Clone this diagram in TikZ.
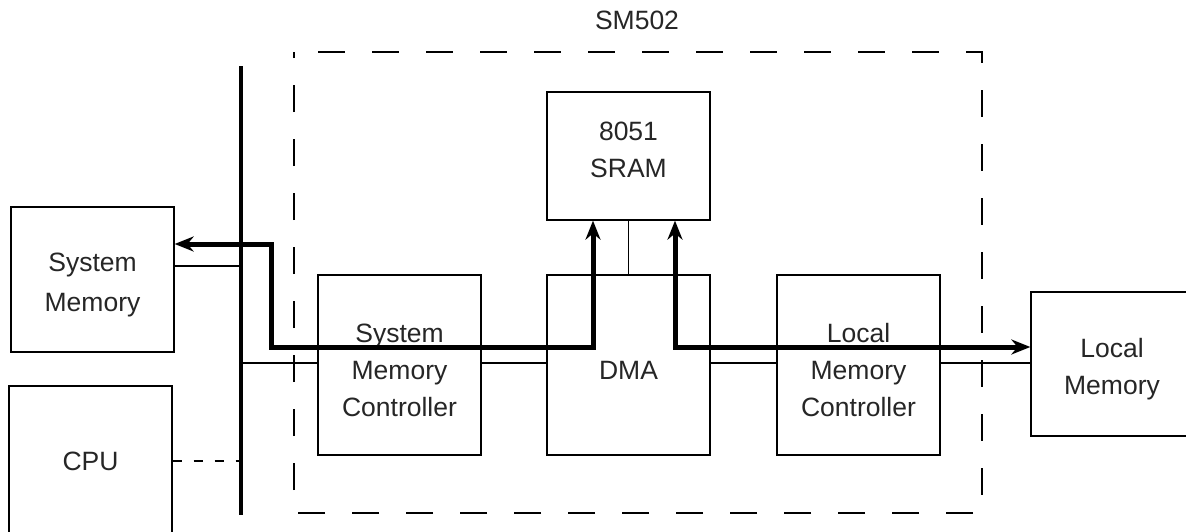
\documentclass[tikz,border=0pt]{standalone}
\usepackage{fontspec}
\setmainfont{Liberation Sans}
\usetikzlibrary{arrows.meta}
\tikzset{
  blk/.style={draw, line width=1.3pt, minimum width=163pt, inner sep=0pt},
  lbl/.style={font=\fontsize{26.5}{37}\selectfont, text=black!85, align=center, inner sep=0pt},
  thin/.style={line width=1.3pt},
  bus/.style={line width=3.6pt},
  flow/.style={line width=5pt, {Stealth[length=19pt,width=15pt]}-{Stealth[length=19pt,width=15pt]}},
  chip/.style={line width=2pt, dash pattern=on 27pt off 27pt, dash phase=30pt},
  cpulink/.style={line width=1.6pt, dash pattern=on 9pt off 12pt}
}
\begin{document}
\begin{tikzpicture}[x=1pt,y=-1pt]
\clip (0,0) rectangle (1186,531);
\fill[white] (0,0) rectangle (1186,531);
% chip boundary
\draw[chip] (294,52) -- (982,52) -- (982,513) -- (294,513) -- cycle;
\node[lbl] (title) at (637,20) {SM502};
% blocks
\node[blk, minimum height=145pt] (sysmem) at (92.5,279.5) {};
\node[blk, minimum height=150pt] (cpu) at (90.5,461) {};
\node[blk, minimum height=180pt] (smc) at (399.5,365) {};
\node[blk, minimum height=180pt] (dma) at (628.5,365) {};
\node[blk, minimum height=180pt] (lmc) at (858.5,365) {};
\node[blk, minimum height=128pt] (sram) at (628.5,156) {};
\node[blk, minimum width=162pt, minimum height=144pt] (lm) at (1112,364) {};
% labels
\node[lbl, baseline=0pt] (sysmemT) at ([yshift=-5pt]sysmem.center) {System\\[3pt]Memory};
\node[lbl] (cpuT) at (cpu.center) {CPU};
\node[lbl] (smcT) at ([yshift=-5pt]smc.center) {System\\Memory\\Controller};
\node[lbl] (dmaT) at ([yshift=-5pt]dma.center) {DMA};
\node[lbl] (lmcT) at ([yshift=-5pt]lmc.center) {Local\\Memory\\Controller};
\node[lbl] (sramT) at ([yshift=6pt]sram.center) {8051\\SRAM};
\node[lbl] (lmT) at ([yshift=-5pt]lm.center) {Local\\Memory};
% bus
\coordinate (bustop) at (241,66);
\coordinate (busbot) at (241,515);
\draw[bus] (bustop) -- (busbot);
\coordinate (busA) at (241,266);
\coordinate (busB) at (241,363);
% thin connectors
\draw[thin] (sysmem.east |- busA) -- (busA);
\draw[thin] (busB) -- (smc.west |- busB);
\draw[thin] (smc.east |- busB) -- (dma.west |- busB);
\draw[thin] (dma.east |- busB) -- (lmc.west |- busB);
\draw[thin] (lmc.east |- busB) -- (lm.west |- busB);
\draw[thin] (sram.south) -- (dma.north);
\draw[cpulink] (cpu.east) -- (cpu.east -| busbot);
% data flows
\coordinate (c1) at (271,347);
\coordinate (c2) at (174,244);
\draw[flow] ([xshift=-35.5pt]sram.south) |- (c1) |- (sysmem.east |- c2);
\coordinate (c3) at (675,347);
\draw[flow] ([xshift=46.5pt]sram.south) |- (lm.west |- c3);
\end{tikzpicture}
\end{document}
